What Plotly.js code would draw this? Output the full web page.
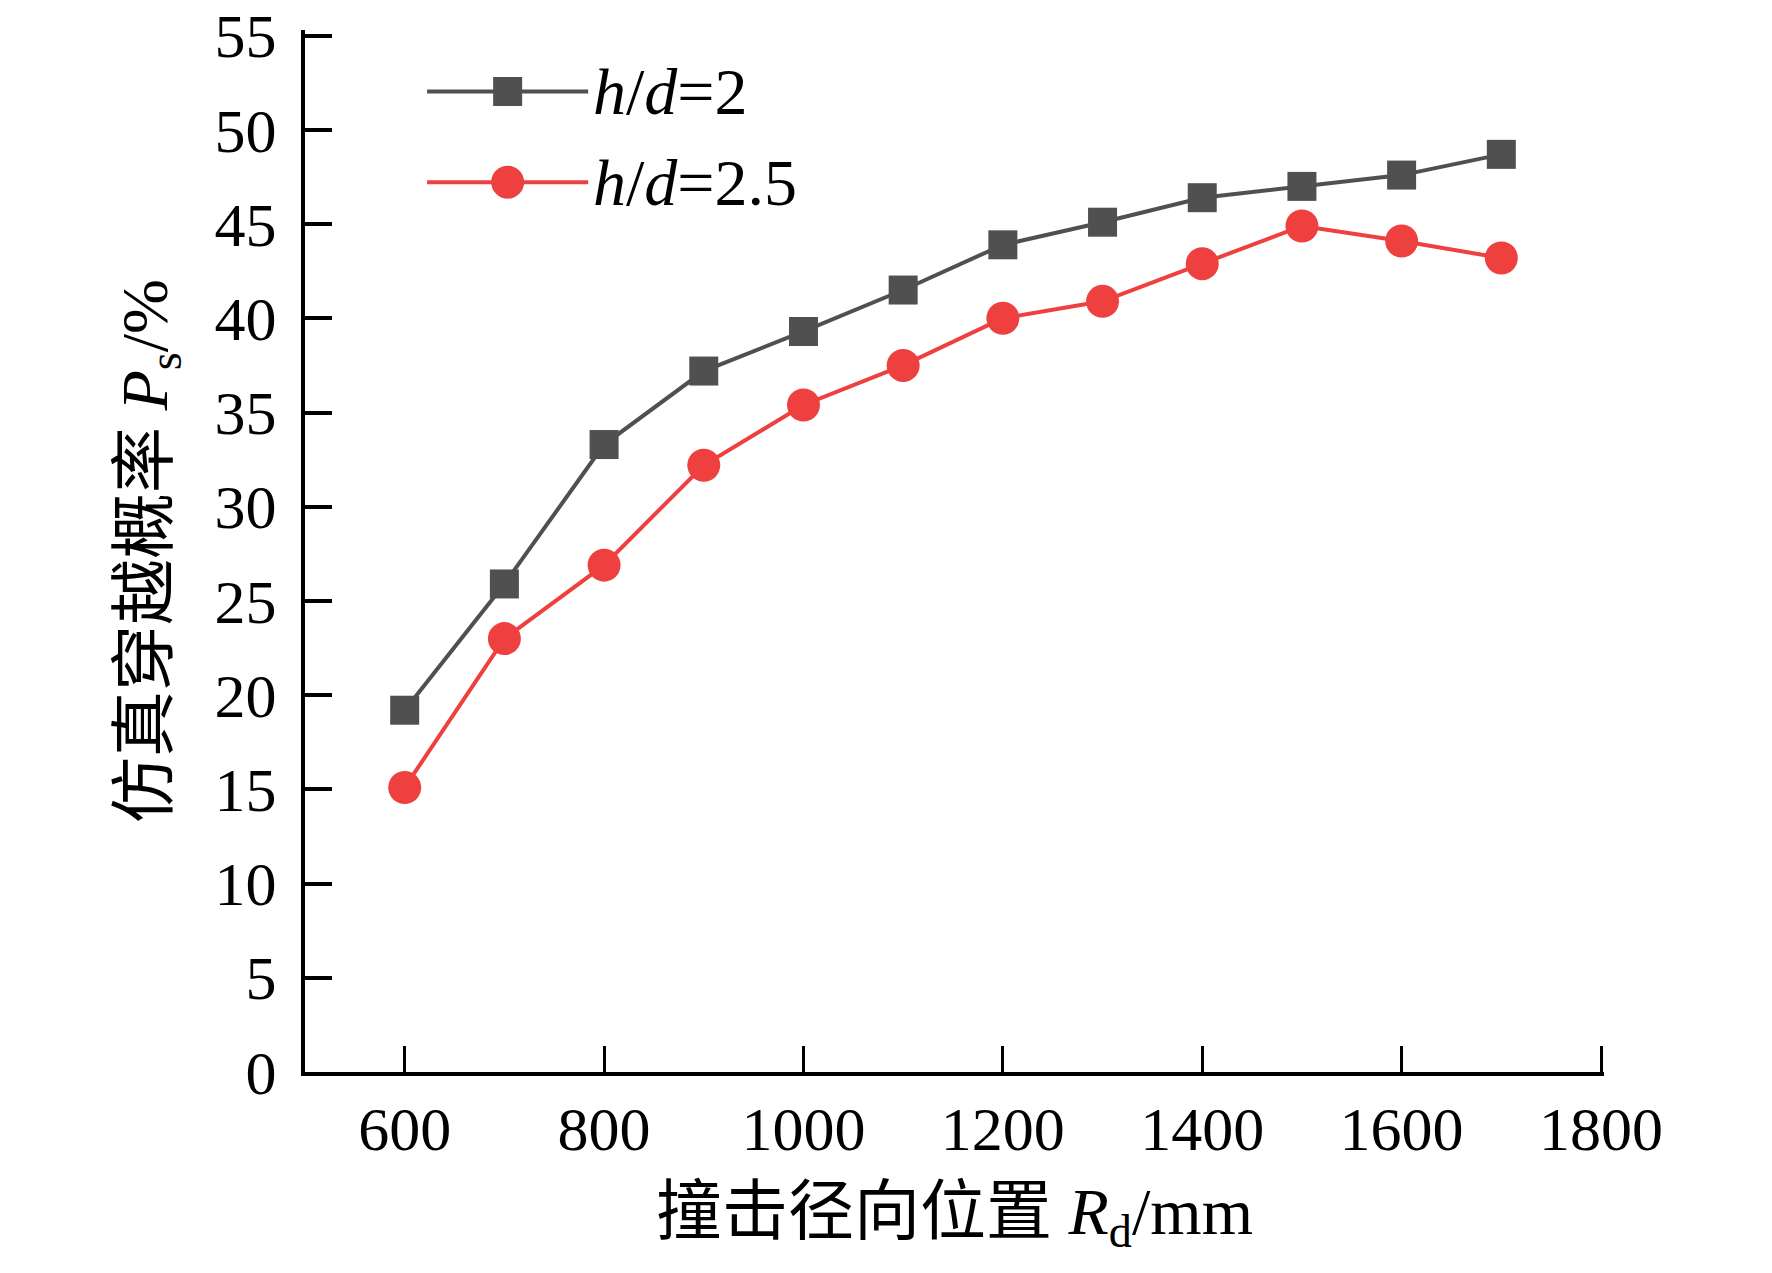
<!DOCTYPE html>
<html>
<head>
<meta charset="utf-8">
<script src="https://cdn.plot.ly/plotly-3.0.1.min.js"></script>
<style>
  html, body { margin: 0; padding: 0; background: #fff; }
  #chart { width: 1772px; height: 1273px; }
</style>
</head>
<body>
<div id="chart"></div>
<script>
// radial impact position Rd (mm)
var positions = [600, 700, 800, 900, 1000, 1100, 1200, 1300, 1400, 1500, 1600, 1700];
// simulated crossing probability Ps (%)
var ratio2 = [19.2, 25.9, 33.3, 37.2, 39.3, 41.5, 43.9, 45.1, 46.4, 47.0, 47.6, 48.7];
var ratio25 = [15.1, 23.0, 26.9, 32.2, 35.4, 37.5, 40.0, 40.9, 42.9, 44.9, 44.1, 43.2];
var seriesNames = ['<i>h</i>/<i>d</i>=2', '<i>h</i>/<i>d</i>=2.5'];
var xTicks = [600, 800, 1000, 1200, 1400, 1600, 1800];
var yTicks = [0, 5, 10, 15, 20, 25, 30, 35, 40, 45, 50, 55];

var gray = '#505050';
var red = '#ef4040';
var font = 'Liberation Serif, Times New Roman, Noto Sans CJK SC, serif';

var data = [
  {
    x: positions, y: ratio2, name: seriesNames[0],
    mode: 'lines+markers', type: 'scatter',
    line: {color: gray, width: 4},
    marker: {symbol: 'square', size: 29, color: gray}
  },
  {
    x: positions, y: ratio25, name: seriesNames[1],
    mode: 'lines+markers', type: 'scatter',
    line: {color: red, width: 4},
    marker: {symbol: 'circle', size: 33, color: red}
  }
];

// hand-made legend so the sample line is as long as in the figure
var legendX = [0.094, 0.218];
var legendMid = 0.156;
var legendY = [0.941, 0.854];
var shapes = [];
var annotations = [];
var colors = [gray, red];
for (var i = 0; i < 2; i++) {
  shapes.push({type: 'line', xref: 'paper', yref: 'paper',
    x0: legendX[0], x1: legendX[1], y0: legendY[i], y1: legendY[i],
    line: {color: colors[i], width: 4}});
  var half = i === 0 ? 14.5 : 16.5;
  shapes.push({type: i === 0 ? 'rect' : 'circle', xref: 'paper', yref: 'paper',
    xsizemode: 'pixel', ysizemode: 'pixel',
    xanchor: legendMid, yanchor: legendY[i],
    x0: -half, x1: half, y0: -half, y1: half,
    fillcolor: colors[i], line: {width: 0}});
  annotations.push({xref: 'paper', yref: 'paper', x: legendX[1] + 0.002, y: legendY[i],
    xanchor: 'left', yanchor: 'middle', showarrow: false,
    text: seriesNames[i], font: {family: font, size: 66, color: '#000'}});
}

var layout = {
  width: 1772, height: 1273,
  margin: {l: 305, r: 168, t: 30, b: 201},
  paper_bgcolor: '#fff', plot_bgcolor: '#fff',
  showlegend: false,
  font: {family: font, color: '#000'},
  xaxis: {
    range: [500, 1803], tickvals: xTicks, ticks: 'inside', ticklen: 26, tickwidth: 3,
    tickcolor: '#000', showline: true, linecolor: '#000', linewidth: 4,
    showgrid: false, zeroline: false, ticklabeloverflow: 'allow',
    tickfont: {family: font, size: 62},
    title: {text: '撞击径向位置 <i>R</i><sub>d</sub>/mm', font: {family: font, size: 66}, standoff: 26}
  },
  yaxis: {
    range: [0, 55.3], tickvals: yTicks, ticks: 'inside', ticklen: 27, tickwidth: 4,
    tickcolor: '#000', showline: true, linecolor: '#000', linewidth: 4,
    showgrid: false, zeroline: false, ticklabeloverflow: 'allow',
    tickfont: {family: font, size: 62}, ticklabelstandoff: 12,
    title: {text: '仿真穿越概率 <i>P</i><sub>s</sub>/%', font: {family: font, size: 66}, standoff: 26}
  },
  shapes: shapes,
  annotations: annotations
};

Plotly.newPlot('chart', data, layout, {displayModeBar: false, staticPlot: true});
</script>
</body>
</html>
